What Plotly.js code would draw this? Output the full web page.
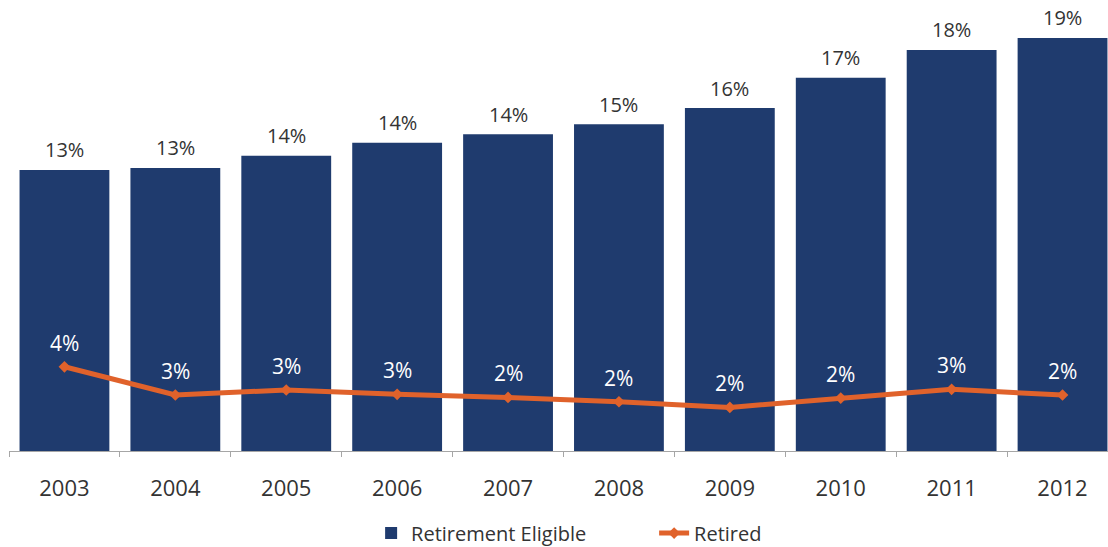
<!DOCTYPE html>
<html>
<head>
<meta charset="utf-8">
<script src="https://cdn.plot.ly/plotly-3.0.1.min.js"></script>
<style>html,body{margin:0;padding:0;background:#fff;}#chart{width:1108px;height:547px;}</style>
</head>
<body>
<div id="chart"></div>
<script>
var years = ['2003','2004','2005','2006','2007','2008','2009','2010','2011','2012'];
var eligibleValues = [12.95, 13.04, 13.6, 14.2, 14.6, 15.05, 15.8, 17.2, 18.48, 19.03];
var eligibleLabels = ['13%','13%','14%','14%','14%','15%','16%','17%','18%','19%'];
var retiredValues = [3.88, 2.58, 2.81, 2.61, 2.47, 2.27, 2.01, 2.44, 2.84, 2.58];
var retiredLabels = ['4%','3%','3%','3%','2%','2%','2%','2%','3%','2%'];

var FONT = '"Open Sans", "Noto Sans", sans-serif';
var NAVY = '#1f3b6e';
var ORANGE = '#e0622b';

var traces = [
  {
    type: 'bar', name: 'Retirement Eligible',
    x: years, y: eligibleValues,
    marker: {color: NAVY},
    hoverinfo: 'skip'
  },
  {
    type: 'scatter', mode: 'lines+markers', name: 'Retired',
    x: years, y: retiredValues,
    line: {color: ORANGE, width: 5},
    marker: {color: ORANGE, size: 9, symbol: 'diamond'},
    hoverinfo: 'skip'
  }
];

var annotations = [];
years.forEach(function (yr, i) {
  annotations.push({
    x: i, y: eligibleValues[i], xref: 'x', yref: 'y',
    text: eligibleLabels[i], showarrow: false,
    yanchor: 'middle', yshift: 20,
    font: {family: FONT, size: 20, color: '#333333'}
  });
  annotations.push({
    x: i, y: retiredValues[i], xref: 'x', yref: 'y',
    text: retiredLabels[i], showarrow: false,
    yanchor: 'middle', yshift: 24,
    font: {family: FONT, size: 21, color: '#ffffff'}
  });
});

var layout = {
  width: 1108, height: 547,
  margin: {l: 9, r: 0, t: 0, b: 96, autoexpand: false},
  paper_bgcolor: '#ffffff', plot_bgcolor: '#ffffff',
  font: {family: FONT, color: '#333333'},
  bargap: 0.19,
  showlegend: true,
  legend: {
    orientation: 'h', x: 0.3295, xanchor: 'left', y: -0.182, yanchor: 'middle',
    font: {family: FONT, size: 20, color: '#333333'},
    traceorder: 'normal', entrywidth: 238, entrywidthmode: 'pixels'
  },
  xaxis: {
    type: 'category', range: [-0.5, 9.41],
    showline: true, linecolor: '#a6a6a6', linewidth: 1,
    ticks: 'outside', tickson: 'boundaries', ticklen: 5, tickcolor: '#a6a6a6',
    ticklabelstandoff: 18,
    tickfont: {family: FONT, size: 22, color: '#333333'},
    showgrid: false, zeroline: false, fixedrange: true
  },
  yaxis: {
    range: [0, 20.78], showticklabels: false, ticks: '', showline: false,
    showgrid: false, zeroline: false, fixedrange: true
  },
  annotations: annotations
};

Plotly.newPlot('chart', traces, layout, {displayModeBar: false, staticPlot: true});
</script>
</body>
</html>
